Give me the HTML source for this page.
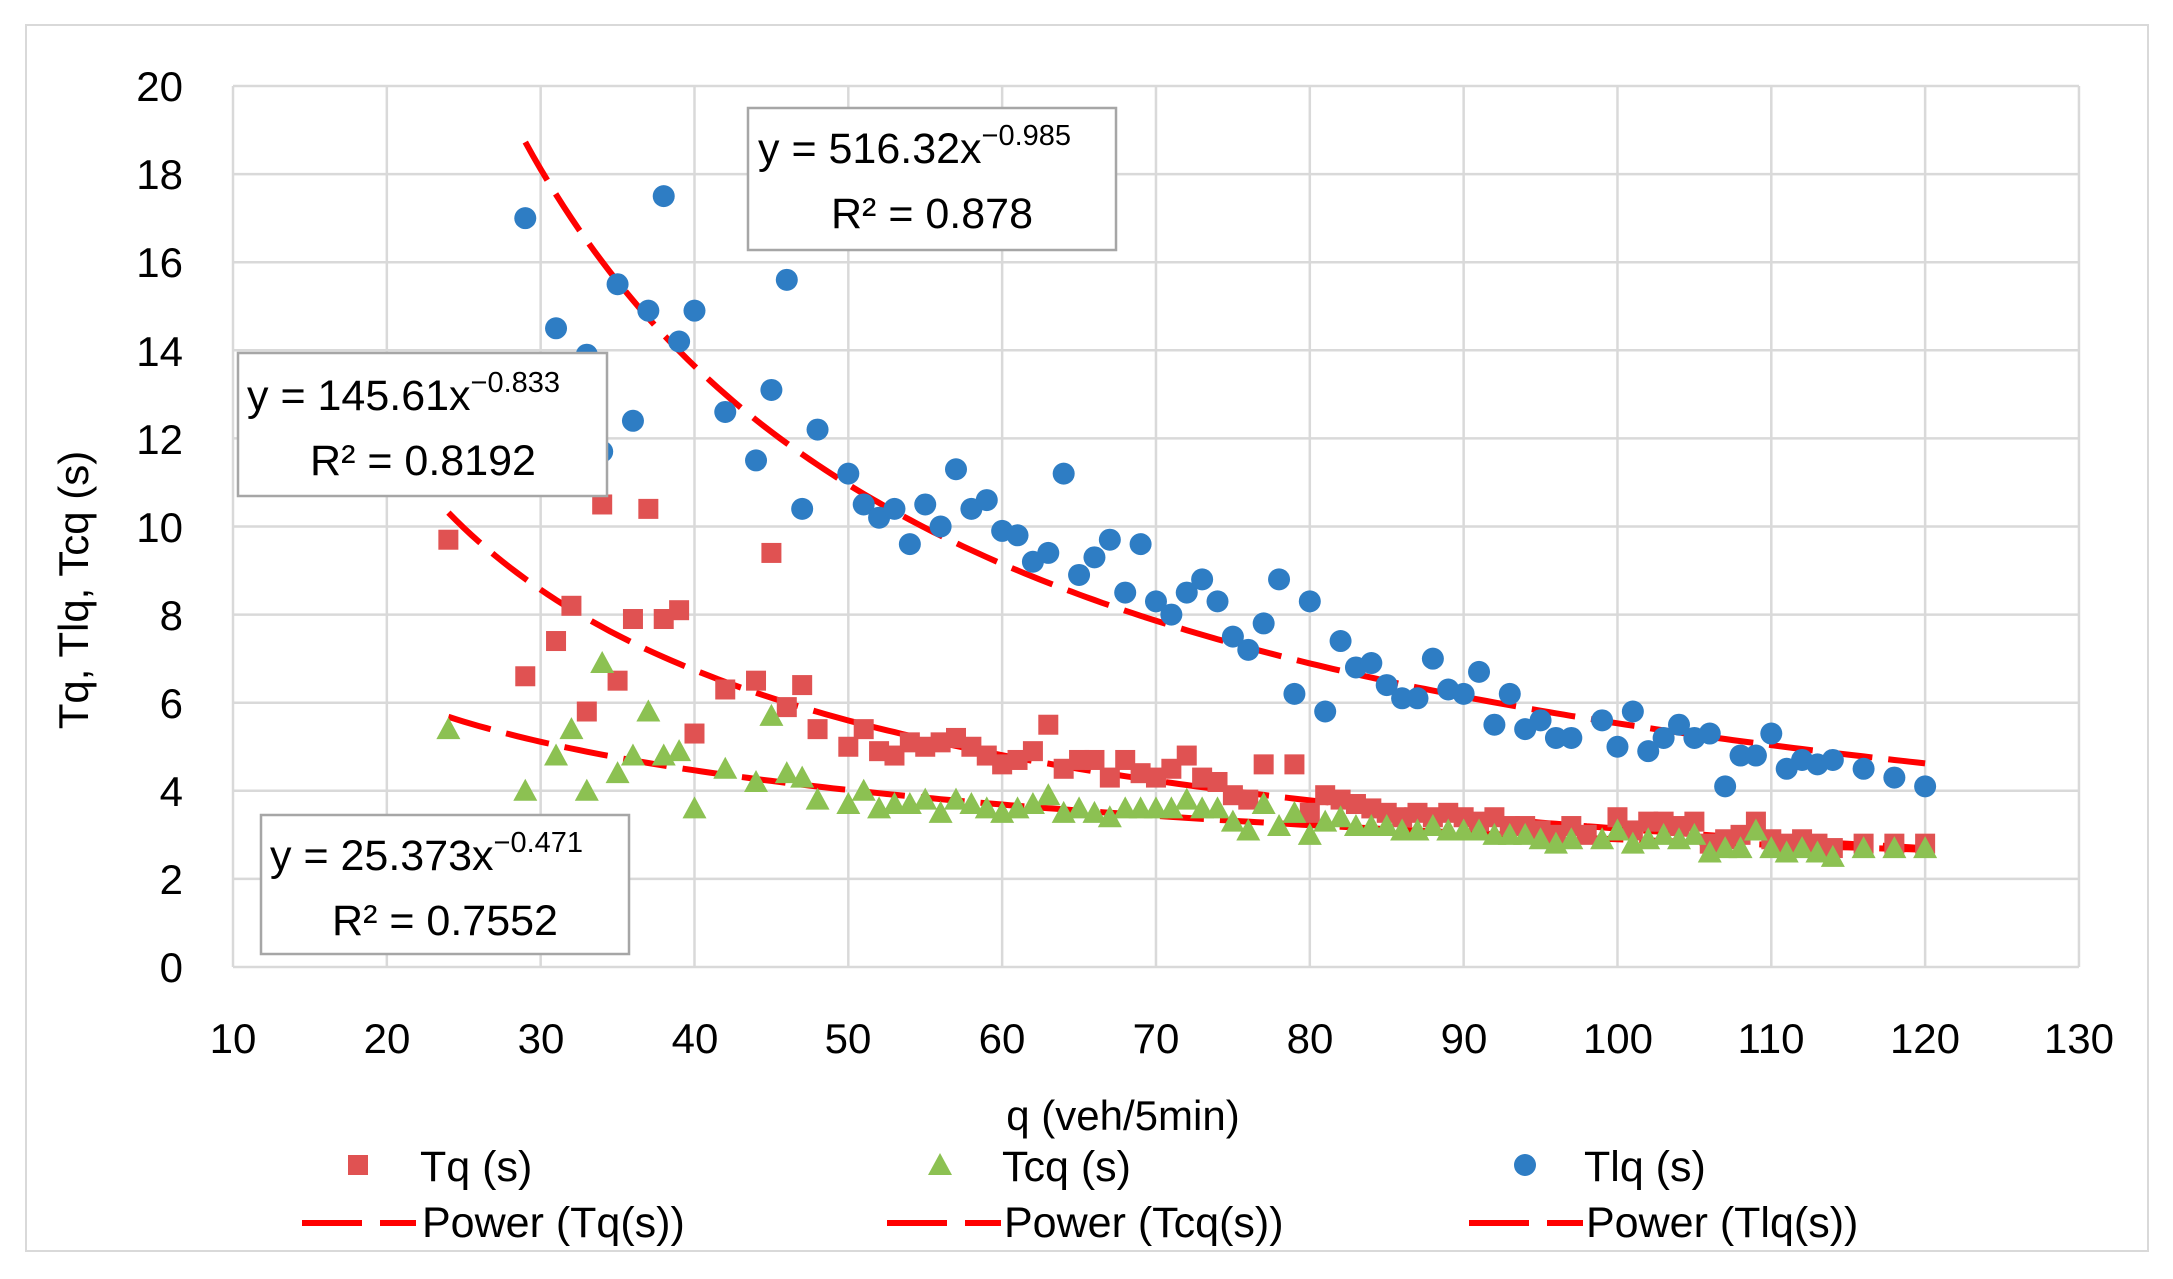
<!DOCTYPE html>
<html><head><meta charset="utf-8"><style>
body{margin:0;background:#fff;}
svg{display:block;font-family:"Liberation Sans",sans-serif;}
</style></head><body>
<svg id="s" width="2173" height="1279" xmlns="http://www.w3.org/2000/svg">
<rect x="0" y="0" width="2173" height="1279" fill="#fff"/>
<rect x="26" y="25" width="2122" height="1226" fill="none" stroke="#d9d9d9" stroke-width="2"/>
<g id="grid" stroke="#d9d9d9" stroke-width="2.5"></g>
<g id="trend" fill="none" stroke="#ff0000" stroke-width="6" stroke-dasharray="44,16"></g>
<g id="pts"></g>
<g font-size="42" fill="#000" text-anchor="end">
<text x="183" y="982">0</text><text x="183" y="894">2</text><text x="183" y="806">4</text><text x="183" y="718">6</text><text x="183" y="630">8</text><text x="183" y="542">10</text><text x="183" y="454">12</text><text x="183" y="366">14</text><text x="183" y="277">16</text><text x="183" y="189">18</text><text x="183" y="101">20</text>
</g>
<g font-size="42" fill="#000" text-anchor="middle">
<text x="233" y="1053">10</text><text x="387" y="1053">20</text><text x="541" y="1053">30</text><text x="695" y="1053">40</text><text x="848" y="1053">50</text><text x="1002" y="1053">60</text><text x="1156" y="1053">70</text><text x="1310" y="1053">80</text><text x="1464" y="1053">90</text><text x="1618" y="1053">100</text><text x="1771" y="1053">110</text><text x="1925" y="1053">120</text><text x="2079" y="1053">130</text>
<text x="1123" y="1130">q (veh/5min)</text>
<text transform="translate(88,590) rotate(-90)">Tq, Tlq, Tcq (s)</text>
</g>
<g>
<rect x="748" y="108" width="368" height="142" fill="#fff" stroke="#a6a6a6" stroke-width="2.5"/>
<text x="758" y="163" font-size="43">y = 516.32x<tspan font-size="29" dy="-18">−0.985</tspan></text>
<text x="932" y="228" font-size="43" text-anchor="middle">R² = 0.878</text>
<rect x="238" y="353" width="369" height="143" fill="#fff" stroke="#a6a6a6" stroke-width="2.5"/>
<text x="247" y="410" font-size="43">y = 145.61x<tspan font-size="29" dy="-18">−0.833</tspan></text>
<text x="423" y="475" font-size="43" text-anchor="middle">R² = 0.8192</text>
<rect x="261" y="815" width="368" height="139" fill="#fff" stroke="#a6a6a6" stroke-width="2.5"/>
<text x="270" y="870" font-size="43">y = 25.373x<tspan font-size="29" dy="-18">−0.471</tspan></text>
<text x="445" y="935" font-size="43" text-anchor="middle">R² = 0.7552</text>
</g>
<g font-size="43" fill="#000">
<rect x="348" y="1155" width="20" height="20" fill="#e05252"/>
<text x="420" y="1181">Tq (s)</text>
<polygon points="940,1153 952,1175 928,1175" fill="#8cc152"/>
<text x="1002" y="1181">Tcq (s)</text>
<circle cx="1525" cy="1165" r="11" fill="#2e7dc4"/>
<text x="1584" y="1181">Tlq (s)</text>
<g stroke="#ff0000" stroke-width="6"><line x1="302" y1="1223" x2="362" y2="1223"/><line x1="380" y1="1223" x2="416" y2="1223"/>
<line x1="887" y1="1223" x2="947" y2="1223"/><line x1="965" y1="1223" x2="1001" y2="1223"/>
<line x1="1469" y1="1223" x2="1529" y2="1223"/><line x1="1547" y1="1223" x2="1583" y2="1223"/></g>
<text x="422" y="1237">Power (Tq(s))</text>
<text x="1004" y="1237">Power (Tcq(s))</text>
<text x="1586" y="1237">Power (Tlq(s))</text>
</g>
</svg>
<script>
var NS="http://www.w3.org/2000/svg";
function X(v){return 233+(v-10)*15.383;}
function Y(v){return 967-v*44.05;}
function el(p,t,a){var e=document.createElementNS(NS,t);for(var k in a)e.setAttribute(k,a[k]);p.appendChild(e);return e;}
var g=document.getElementById("grid");
for(var i=0;i<=12;i++){var x=X(10+i*10);el(g,"line",{x1:x,y1:Y(20),x2:x,y2:Y(0)});}
for(var j=0;j<=10;j++){var y=Y(j*2);el(g,"line",{x1:X(10),y1:y,x2:X(130),y2:y});}
var tr=document.getElementById("trend");
function curve(a,b,x0,x1){var d="";for(var x=x0;x<=x1+0.01;x+=0.5){d+=(d?"L":"M")+X(x).toFixed(1)+","+Y(a*Math.pow(x,b)).toFixed(1);}el(tr,"path",{d:d});}
var pts=document.getElementById("pts");
var lq=[[29,17],[31,14.5],[33,13.9],[34,11.7],[35,15.5],[36,12.4],[37,14.9],[38,17.5],[39,14.2],[40,14.9],[42,12.6],[44,11.5],[45,13.1],[46,15.6],[47,10.4],[48,12.2],[50,11.2],[51,10.5],[52,10.2],[53,10.4],[54,9.6],[55,10.5],[56,10],[57,11.3],[58,10.4],[59,10.6],[60,9.9],[61,9.8],[62,9.2],[63,9.4],[64,11.2],[65,8.9],[66,9.3],[67,9.7],[68,8.5],[69,9.6],[70,8.3],[71,8],[72,8.5],[73,8.8],[74,8.3],[75,7.5],[76,7.2],[77,7.8],[78,8.8],[79,6.2],[80,8.3],[81,5.8],[82,7.4],[83,6.8],[84,6.9],[85,6.4],[86,6.1],[87,6.1],[88,7],[89,6.3],[90,6.2],[91,6.7],[92,5.5],[93,6.2],[94,5.4],[95,5.6],[96,5.2],[97,5.2],[99,5.6],[100,5],[101,5.8],[102,4.9],[103,5.2],[104,5.5],[105,5.2],[106,5.3],[107,4.1],[108,4.8],[109,4.8],[110,5.3],[111,4.5],[112,4.7],[113,4.6],[114,4.7],[116,4.5],[118,4.3],[120,4.1]];
var tq=[[24,9.7],[29,6.6],[31,7.4],[32,8.2],[33,5.8],[34,10.5],[35,6.5],[36,7.9],[37,10.4],[38,7.9],[39,8.1],[40,5.3],[42,6.3],[44,6.5],[45,9.4],[46,5.9],[47,6.4],[48,5.4],[50,5],[51,5.4],[52,4.9],[53,4.8],[54,5.1],[55,5],[56,5.1],[57,5.2],[58,5],[59,4.8],[60,4.6],[61,4.7],[62,4.9],[63,5.5],[64,4.5],[65,4.7],[66,4.7],[67,4.3],[68,4.7],[69,4.4],[70,4.3],[71,4.5],[72,4.8],[73,4.3],[74,4.2],[75,3.9],[76,3.8],[77,4.6],[79,4.6],[80,3.5],[81,3.9],[82,3.8],[83,3.7],[84,3.6],[85,3.5],[86,3.4],[87,3.5],[88,3.4],[89,3.5],[90,3.4],[91,3.3],[92,3.4],[93,3.2],[94,3.2],[95,3.1],[96,3],[97,3.2],[98,3],[100,3.4],[101,3.1],[102,3.3],[103,3.3],[104,3.2],[105,3.3],[106,2.8],[107,2.9],[108,3],[109,3.3],[110,2.9],[111,2.8],[112,2.9],[113,2.8],[114,2.7],[116,2.8],[118,2.8],[120,2.8]];
var tc=[[24,5.4],[29,4],[31,4.8],[32,5.4],[33,4],[34,6.9],[35,4.4],[36,4.8],[37,5.8],[38,4.8],[39,4.9],[40,3.6],[42,4.5],[44,4.2],[45,5.7],[46,4.4],[47,4.3],[48,3.8],[50,3.7],[51,4],[52,3.6],[53,3.7],[54,3.7],[55,3.8],[56,3.5],[57,3.8],[58,3.7],[59,3.6],[60,3.5],[61,3.6],[62,3.7],[63,3.9],[64,3.5],[65,3.6],[66,3.5],[67,3.4],[68,3.6],[69,3.6],[70,3.6],[71,3.6],[72,3.8],[73,3.6],[74,3.6],[75,3.3],[76,3.1],[77,3.7],[78,3.2],[79,3.5],[80,3],[81,3.3],[82,3.4],[83,3.2],[84,3.2],[85,3.2],[86,3.1],[87,3.1],[88,3.2],[89,3.1],[90,3.1],[91,3.1],[92,3],[93,3],[94,3],[95,2.9],[96,2.8],[97,2.9],[99,2.9],[100,3.1],[101,2.8],[102,2.9],[103,3],[104,2.9],[105,3],[106,2.6],[107,2.7],[108,2.7],[109,3.1],[110,2.7],[111,2.6],[112,2.7],[113,2.6],[114,2.5],[116,2.7],[118,2.7],[120,2.7]];
lq.forEach(function(p){el(pts,"circle",{cx:X(p[0]),cy:Y(p[1]),r:11,fill:"#2e7dc4"});});
tq.forEach(function(p){el(pts,"rect",{x:X(p[0])-10,y:Y(p[1])-10,width:20,height:20,fill:"#e05252"});});
tc.forEach(function(p){var x=X(p[0]),y=Y(p[1]);el(pts,"polygon",{points:x+","+(y-12)+" "+(x+12)+","+(y+10)+" "+(x-12)+","+(y+10),fill:"#8cc152"});});
curve(516.32,-0.985,29,120);
curve(145.61,-0.833,24,120);
curve(25.373,-0.471,24,120);
</script>
</body></html>
